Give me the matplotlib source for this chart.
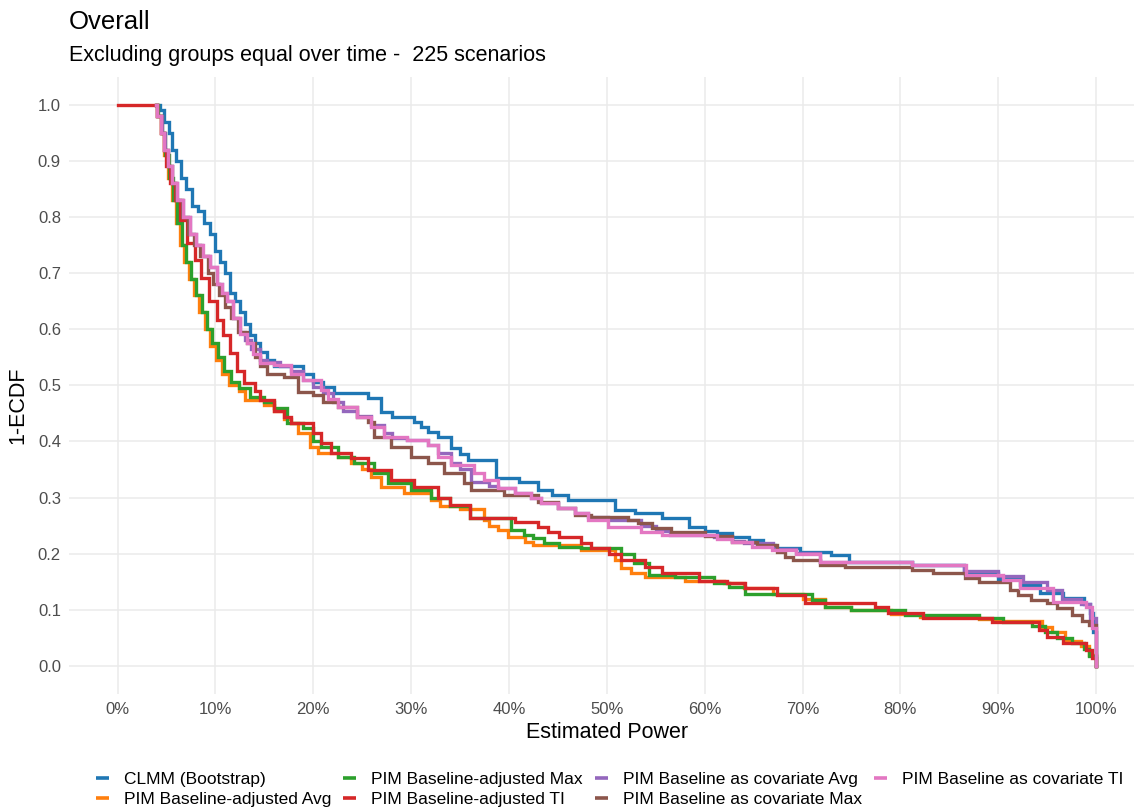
import matplotlib
matplotlib.use("Agg")
import matplotlib.pyplot as plt
from matplotlib.lines import Line2D

plt.rcParams['font.family'] = ['Liberation Sans', 'DejaVu Sans']

W, H = 1134, 807

# ---------------- data: (estimated power %, 1-ECDF) step knots ----------------
series_names = [
    "CLMM (Bootstrap)",
    "PIM Baseline-adjusted Avg",
    "PIM Baseline-adjusted Max",
    "PIM Baseline-adjusted TI",
    "PIM Baseline as covariate Avg",
    "PIM Baseline as covariate Max",
    "PIM Baseline as covariate TI",
]
colors = ["#1f77b4", "#ff7f0e", "#2ca02c", "#d62728", "#9467bd", "#8c564b", "#e377c2"]

clmm = [(4.0, 1.0), (4.3, 0.99), (4.8, 0.97), (5.3, 0.95), (5.6, 0.92), (6.0, 0.90), (6.5, 0.87),
        (7.0, 0.85), (7.6, 0.82), (8.2, 0.81), (8.8, 0.79), (9.5, 0.77), (10.0, 0.74), (10.5, 0.72),
        (11.0, 0.70), (11.5, 0.665), (12.0, 0.65), (12.5, 0.63), (13.0, 0.61), (13.5, 0.59),
        (14.0, 0.575), (14.6, 0.56), (15.3, 0.545), (16.0, 0.535), (19.0, 0.52), (20.0, 0.506),
        (21.0, 0.497), (22.1, 0.486), (25.6, 0.477), (26.9, 0.452), (28.1, 0.443), (30.3, 0.435),
        (31.0, 0.426), (31.7, 0.417), (32.7, 0.408), (34.1, 0.388), (35.0, 0.378), (35.8, 0.367),
        (38.7, 0.335), (41.0, 0.327), (43.0, 0.313), (44.4, 0.304), (46.0, 0.295), (50.8, 0.278),
        (52.9, 0.272), (55.6, 0.263), (58.4, 0.247), (60.0, 0.24), (61.3, 0.236), (62.8, 0.229),
        (64.5, 0.224), (66.0, 0.215), (67.2, 0.21), (69.7, 0.203), (72.9, 0.198), (74.8, 0.185),
        (81.2, 0.18), (86.5, 0.165), (90.0, 0.155), (92.2, 0.144), (94.3, 0.130), (96.6, 0.121),
        (98.8, 0.111), (99.4, 0.095), (99.7, 0.06), (100, 0.0)]

pim_ba_avg = [(3.9, 1.0), (4.0, 0.98), (4.4, 0.95), (4.8, 0.91), (5.2, 0.87), (5.6, 0.83), (6.0, 0.79),
              (6.4, 0.75), (6.8, 0.72), (7.3, 0.69), (7.8, 0.66), (8.3, 0.63), (8.9, 0.60), (9.5, 0.57),
              (10.1, 0.545), (10.7, 0.52), (11.4, 0.50), (12.4, 0.49), (13.0, 0.473), (15.0, 0.465),
              (16.0, 0.455), (17.0, 0.44), (17.7, 0.432), (18.4, 0.415), (19.7, 0.39), (20.5, 0.379),
              (22.5, 0.372), (23.9, 0.361), (25.0, 0.35), (25.9, 0.336), (26.9, 0.319), (29.3, 0.308),
              (32.0, 0.295), (33.0, 0.285), (35.0, 0.28), (37.4, 0.26), (38.0, 0.25), (38.9, 0.242),
              (39.9, 0.23), (41.6, 0.221), (42.5, 0.215), (47.4, 0.206), (50.8, 0.189), (51.5, 0.175),
              (52.5, 0.165), (53.9, 0.158), (58.0, 0.152), (62.0, 0.147), (64.0, 0.138), (67.0, 0.128),
              (70.0, 0.12), (72.3, 0.105), (75.0, 0.1), (79.0, 0.092), (82.0, 0.088), (88.0, 0.084),
              (90.0, 0.08), (94.5, 0.07), (95.5, 0.06), (96.8, 0.045), (98.5, 0.035), (99.3, 0.02),
              (100, 0.0)]

pim_ba_max = [(3.9, 1.0), (4.1, 0.98), (4.5, 0.95), (4.9, 0.91), (5.3, 0.87), (5.7, 0.83), (6.1, 0.79),
              (6.6, 0.75), (7.0, 0.72), (7.5, 0.69), (8.0, 0.66), (8.6, 0.63), (9.1, 0.60), (9.7, 0.575),
              (10.3, 0.55), (10.9, 0.525), (11.6, 0.505), (12.4, 0.495), (13.5, 0.48), (15.0, 0.47),
              (16.0, 0.459), (17.3, 0.432), (19.0, 0.424), (20.0, 0.40), (20.8, 0.39), (22.5, 0.372),
              (24.2, 0.361), (26.2, 0.343), (27.6, 0.326), (30.0, 0.313), (32.0, 0.299), (34.0, 0.285),
              (36.0, 0.263), (40.2, 0.242), (41.5, 0.233), (42.5, 0.228), (43.6, 0.219), (45.1, 0.212),
              (47.4, 0.21), (51.5, 0.2), (52.8, 0.183), (54.3, 0.162), (57.0, 0.158), (61.0, 0.147),
              (62.5, 0.141), (64.1, 0.128), (71.0, 0.117), (72.3, 0.105), (75.0, 0.1), (80.5, 0.091),
              (88.0, 0.085), (90.5, 0.078), (93.5, 0.072), (94.8, 0.06), (96.0, 0.05), (97.5, 0.04),
              (98.8, 0.03), (99.3, 0.018), (100, 0.0)]

pim_ba_ti = [(0, 1.0), (4.0, 0.98), (4.4, 0.95), (4.7, 0.92), (5.0, 0.89), (5.4, 0.86), (5.9, 0.83),
             (6.4, 0.795), (7.1, 0.754), (7.9, 0.723), (8.5, 0.692), (9.3, 0.651), (10.2, 0.616),
             (10.8, 0.59), (11.5, 0.557), (12.2, 0.525), (12.9, 0.504), (14.0, 0.49), (14.6, 0.473),
             (16.0, 0.455), (17.0, 0.443), (17.7, 0.432), (20.0, 0.415), (20.8, 0.397), (21.8, 0.379),
             (23.9, 0.37), (25.6, 0.349), (27.9, 0.331), (30.3, 0.319), (32.7, 0.299), (34.0, 0.286),
             (36.0, 0.263), (40.6, 0.256), (43.0, 0.248), (44.0, 0.239), (45.1, 0.23), (47.4, 0.219),
             (48.4, 0.21), (50.2, 0.2), (51.5, 0.189), (53.9, 0.176), (55.6, 0.165), (59.4, 0.151),
             (62.3, 0.147), (64.1, 0.138), (67.4, 0.126), (70.3, 0.112), (77.4, 0.105), (78.7, 0.094),
             (82.3, 0.086), (89.4, 0.078), (94.2, 0.064), (95.0, 0.052), (96.6, 0.041), (99.0, 0.028),
             (99.6, 0.015), (100, 0.0)]

pim_cov_avg = [(3.9, 1.0), (4.0, 0.98), (4.5, 0.95), (4.9, 0.92), (5.2, 0.89), (5.6, 0.86), (6.1, 0.83),
               (6.7, 0.80), (7.4, 0.77), (8.0, 0.75), (8.6, 0.73), (9.5, 0.71), (10.2, 0.68),
               (10.7, 0.665), (11.2, 0.65), (11.8, 0.62), (12.5, 0.595), (13.0, 0.58), (13.6, 0.565),
               (14.6, 0.545), (15.3, 0.541), (16.6, 0.535), (17.7, 0.525), (19.0, 0.509), (20.0, 0.497),
               (21.0, 0.486), (22.0, 0.47), (23.0, 0.455), (24.5, 0.445), (25.9, 0.43), (27.2, 0.415),
               (28.0, 0.406), (29.6, 0.402), (31.7, 0.393), (32.7, 0.38), (34.1, 0.362), (35.0, 0.35),
               (36.1, 0.328), (38.0, 0.32), (38.9, 0.317), (40.6, 0.308), (42.3, 0.299), (43.3, 0.29),
               (45.0, 0.281), (46.7, 0.272), (48.1, 0.265), (50.1, 0.26), (53.5, 0.25), (55.0, 0.24),
               (56.5, 0.233), (61.0, 0.229), (62.8, 0.222), (64.0, 0.219), (67.0, 0.208), (69.3, 0.202),
               (71.8, 0.185), (81.2, 0.18), (86.5, 0.17), (90.0, 0.16), (92.5, 0.15), (95.0, 0.135),
               (96.5, 0.12), (98.5, 0.11), (99.4, 0.085), (100, 0.0)]

pim_cov_max = [(3.9, 1.0), (4.0, 0.98), (4.4, 0.95), (4.8, 0.92), (5.2, 0.89), (5.6, 0.86), (6.0, 0.83),
               (6.6, 0.80), (7.2, 0.77), (7.8, 0.75), (8.4, 0.73), (9.2, 0.70), (9.8, 0.68), (10.4, 0.66),
               (11.0, 0.64), (11.6, 0.62), (12.3, 0.595), (13.2, 0.575), (14.0, 0.55), (14.6, 0.535),
               (15.3, 0.521), (17.0, 0.514), (18.4, 0.488), (20.0, 0.482), (21.0, 0.47), (22.5, 0.461),
               (24.5, 0.443), (25.6, 0.434), (26.2, 0.408), (27.9, 0.39), (30.0, 0.372), (31.7, 0.361),
               (33.4, 0.343), (35.4, 0.326), (36.1, 0.313), (39.5, 0.304), (43.0, 0.292), (45.0, 0.281),
               (46.8, 0.269), (48.4, 0.265), (52.2, 0.26), (53.2, 0.254), (54.6, 0.245), (56.6, 0.239),
               (60.0, 0.232), (62.8, 0.221), (65.3, 0.215), (67.4, 0.203), (68.2, 0.194), (69.0, 0.189),
               (71.8, 0.18), (74.3, 0.176), (81.2, 0.171), (83.3, 0.165), (86.6, 0.157), (88.0, 0.15),
               (91.2, 0.135), (92.0, 0.126), (93.3, 0.118), (95.0, 0.112), (96.0, 0.104), (97.5, 0.09),
               (98.6, 0.08), (99.3, 0.073), (100, 0.0)]

pim_cov_ti = [(3.9, 1.0), (4.0, 0.98), (4.4, 0.95), (4.8, 0.92), (5.2, 0.89), (5.6, 0.86), (6.1, 0.83),
              (6.7, 0.80), (7.4, 0.77), (8.0, 0.75), (8.7, 0.73), (9.5, 0.71), (10.2, 0.68),
              (10.7, 0.665), (11.2, 0.65), (11.8, 0.62), (12.5, 0.592), (13.2, 0.575), (13.8, 0.555),
              (14.6, 0.539), (16.0, 0.536), (17.7, 0.521), (19.0, 0.509), (20.8, 0.491), (21.5, 0.475),
              (22.5, 0.461), (24.5, 0.443), (25.9, 0.426), (27.2, 0.408), (29.6, 0.402), (31.7, 0.393),
              (32.7, 0.372), (34.1, 0.358), (36.4, 0.343), (37.4, 0.331), (38.9, 0.317), (40.6, 0.308),
              (42.3, 0.299), (43.3, 0.29), (45.0, 0.281), (46.7, 0.272), (48.1, 0.26), (50.1, 0.248),
              (53.5, 0.239), (55.6, 0.233), (61.3, 0.227), (62.8, 0.221), (64.8, 0.212), (66.9, 0.206),
              (69.3, 0.2), (71.8, 0.185), (81.2, 0.18), (86.7, 0.162), (90.5, 0.153), (92.2, 0.139),
              (95.6, 0.114), (99.0, 0.105), (99.6, 0.068), (100, 0.0)]

all_series = [clmm, pim_ba_avg, pim_ba_max, pim_ba_ti, pim_cov_avg, pim_cov_max, pim_cov_ti]

x_ticks = list(range(0, 101, 10))
x_tick_labels = [f"{t}%" for t in x_ticks]
y_ticks = [i / 10 for i in range(11)]
y_tick_labels = [f"{t:.1f}" for t in y_ticks]

title = "Overall"
subtitle = "Excluding groups equal over time -  225 scenarios"

# ---------------- figure ----------------
fig = plt.figure(figsize=(W / 100, H / 100), dpi=100)


def fx(px):
    return px / W


def fy(py):
    return 1 - py / H


left_px, right_px, top_px, bot_px = 68.6, 1145.0, 76.6, 694.0
ax = fig.add_axes([fx(left_px), fy(bot_px), (right_px - left_px) / W, (bot_px - top_px) / H])

handles = []
for name, pts, c in zip(series_names, all_series, colors):
    xs = [p[0] for p in pts]
    ys = [p[1] for p in pts]
    ax.step(xs, ys, where="post", color=c, lw=2.4, solid_joinstyle="miter")
    handles.append(Line2D([], [], color=c, lw=2.6, solid_capstyle="butt"))

ax.set_xlim(-5, 105)
ax.set_ylim(-0.05, 1.05)
ax.set_xticks(x_ticks)
ax.set_xticklabels(x_tick_labels)
ax.set_yticks(y_ticks)
ax.set_yticklabels(y_tick_labels)
ax.grid(True, color="#ebebeb", lw=1.1)
ax.set_axisbelow(True)
for s in ax.spines.values():
    s.set_visible(False)
ax.tick_params(length=0, labelsize=12, labelcolor="#4d4d4d", pad=5.5)

fig.text(fx(68.6), fy(22), title, fontsize=18.5, ha="left", va="center")
fig.text(fx(68.6), fy(55), subtitle, fontsize=15.5, ha="left", va="center")
fig.text(fx(607), fy(732), "Estimated Power", fontsize=15.5, ha="center", va="center")
fig.text(fx(18), fy(405), "1-ECDF", fontsize=15.5, ha="center", va="center", rotation=90)

fig.legend(handles, series_names, ncol=4, loc="upper left",
           bbox_to_anchor=(fx(96), fy(772)), frameon=False, fontsize=12.5,
           handlelength=0.75, handletextpad=0.85, columnspacing=0.7,
           labelspacing=0.28, borderpad=0, borderaxespad=0)

fig.savefig("out.png", dpi=100)
